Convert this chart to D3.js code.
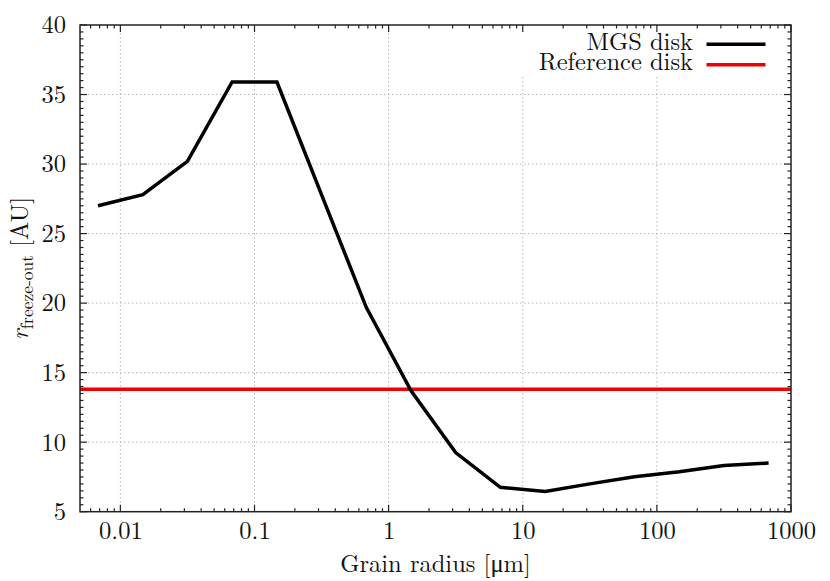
<!DOCTYPE html>
<html><head><meta charset="utf-8">
<script src="https://cdn.jsdelivr.net/npm/d3@7"></script>
<style>html,body{margin:0;padding:0;background:#fff;}</style>
</head>
<body><svg id="chart" width="830" height="581"></svg>
<script>
// ---- data ----
const grainRadius = [0.00681, 0.0147, 0.0316, 0.0681, 0.147, 0.316, 0.681, 1.47, 3.16, 6.81, 14.7, 31.6, 68.1, 147, 316, 681];
const mgsDisk = [27.0, 27.8, 30.2, 35.9, 35.9, 27.8, 19.7, 13.7, 9.25, 6.75, 6.45, 7.0, 7.52, 7.88, 8.33, 8.5];
const referenceDisk = 13.8;
const xTickValues = [0.01, 0.1, 1, 10, 100, 1000];
const xTickLabels = ["0.01", "0.1", "1", "10", "100", "1000"];
const yTickValues = [5, 10, 15, 20, 25, 30, 35, 40];
const legendLabels = ["MGS disk", "Reference disk"];
const seriesColors = ["#000000", "#ee0000"];

const FONT = "'Latin Modern Roman', 'Liberation Serif', serif";
const FS = "24.5px";

// ---- layout ----
const svg = d3.select("#chart");
const L = 80, R = 791, T = 25, B = 511.7;
const x = d3.scaleLog().domain([0.005, 1000]).range([L, R]);
const y = d3.scaleLinear().domain([5, 40]).range([B, T]);

// minor ticks
const xMinor = [];
for (let e = -3; e < 3; e++) for (let m = 2; m <= 9; m++) {
  const v = m * Math.pow(10, e);
  if (v > 0.005 && v < 1000) xMinor.push(v);
}
const yMinor = d3.range(5, 40.001, 0.5).filter(v => yTickValues.indexOf(v) < 0);

// grid
const grid = svg.append("g");
grid.selectAll("line.gx").data(xTickValues.filter(v => v < 1000)).enter().append("line")
  .attr("x1", d => x(d)).attr("x2", d => x(d)).attr("y1", T).attr("y2", B)
  .attr("stroke", "#b8b8b8").attr("stroke-width", 1).attr("stroke-dasharray", "1.5,2.5");
grid.selectAll("line.gy").data(yTickValues.filter(v => v > 5 && v < 40)).enter().append("line")
  .attr("x1", L).attr("x2", R).attr("y1", d => y(d)).attr("y2", d => y(d))
  .attr("stroke", "#b8b8b8").attr("stroke-width", 1).attr("stroke-dasharray", "1.5,2.5");

// legend background (hides grid behind key)
svg.append("rect").attr("x", 500).attr("y", T + 1).attr("width", R - 501).attr("height", 51).attr("fill", "#fff");

// clip
svg.append("clipPath").attr("id", "clip").append("rect").attr("x", L).attr("y", T).attr("width", R - L).attr("height", B - T);
const plot = svg.append("g").attr("clip-path", "url(#clip)");

plot.append("line").attr("x1", L).attr("x2", R).attr("y1", y(referenceDisk)).attr("y2", y(referenceDisk))
  .attr("stroke", seriesColors[1]).attr("stroke-width", 3.5);

const line = d3.line().x((d, i) => x(grainRadius[i])).y(d => y(d));
plot.append("path").datum(mgsDisk).attr("d", line).attr("fill", "none")
  .attr("stroke", seriesColors[0]).attr("stroke-width", 3.5).attr("stroke-linejoin", "miter");

// axes (ticks inward, mirrored)
const axisColor = "#222";
function inTicks(g, vals, len, side) {
  vals.forEach(v => {
    if (side === "bottom") g.append("line").attr("x1", x(v)).attr("x2", x(v)).attr("y1", B).attr("y2", B - len);
    if (side === "top") g.append("line").attr("x1", x(v)).attr("x2", x(v)).attr("y1", T).attr("y2", T + len);
    if (side === "left") g.append("line").attr("y1", y(v)).attr("y2", y(v)).attr("x1", L).attr("x2", L + len);
    if (side === "right") g.append("line").attr("y1", y(v)).attr("y2", y(v)).attr("x1", R).attr("x2", R - len);
  });
}
const tg = svg.append("g").attr("stroke", axisColor).attr("stroke-width", 1.2);
["bottom", "top"].forEach(s => { inTicks(tg, xTickValues, 7, s); inTicks(tg, xMinor, 3.5, s); });
["left", "right"].forEach(s => { inTicks(tg, yTickValues, 7, s); inTicks(tg, yMinor, 3.5, s); });

svg.append("rect").attr("x", L).attr("y", T).attr("width", R - L).attr("height", B - T)
  .attr("fill", "none").attr("stroke", axisColor).attr("stroke-width", 1.5);

// tick labels via d3 axes (domain/ticks hidden)
const xAxis = d3.axisBottom(x).tickValues(xTickValues).tickFormat((d, i) => xTickLabels[i]).tickSize(0).tickPadding(0);
const gx = svg.append("g").attr("transform", `translate(0,${B})`).call(xAxis);
gx.select(".domain").remove();
gx.selectAll("text").attr("y", 27.5).attr("dy", 0).attr("fill", "#111")
  .style("font-family", FONT).style("font-size", FS);

const yAxis = d3.axisLeft(y).tickValues(yTickValues).tickFormat(d3.format("d")).tickSize(0).tickPadding(0);
const gy = svg.append("g").attr("transform", `translate(${L},0)`).call(yAxis);
gy.select(".domain").remove();
gy.selectAll("text").attr("x", -14).attr("dy", "0.32em").attr("fill", "#111")
  .style("font-family", FONT).style("font-size", FS);

// axis titles
svg.append("text").attr("x", (L + R) / 2).attr("y", 571.5).attr("text-anchor", "middle").attr("fill", "#111")
  .style("font-family", FONT).style("font-size", FS).text("Grain radius [μm]");

const yl = svg.append("text").attr("transform", `translate(27.5,${(T + B) / 2}) rotate(-90)`).attr("text-anchor", "middle")
  .attr("fill", "#111").style("font-family", FONT).style("font-size", FS);
yl.append("tspan").style("font-style", "italic").text("r");
yl.append("tspan").attr("dy", 5).style("font-size", "17.5px").text("freeze-out");
yl.append("tspan").attr("dy", -5).text(" [AU]");

// legend
const lg = svg.append("g");
legendLabels.forEach((lab, i) => {
  const yy = 44.3 + i * 20.5;
  lg.append("text").attr("x", 693).attr("y", yy + 5.5).attr("text-anchor", "end").attr("fill", "#111")
    .style("font-family", FONT).style("font-size", FS).text(lab);
  lg.append("line").attr("x1", 706.5).attr("x2", 765.5).attr("y1", yy).attr("y2", yy)
    .attr("stroke", seriesColors[i]).attr("stroke-width", 3.5);
});
</script></body></html>
